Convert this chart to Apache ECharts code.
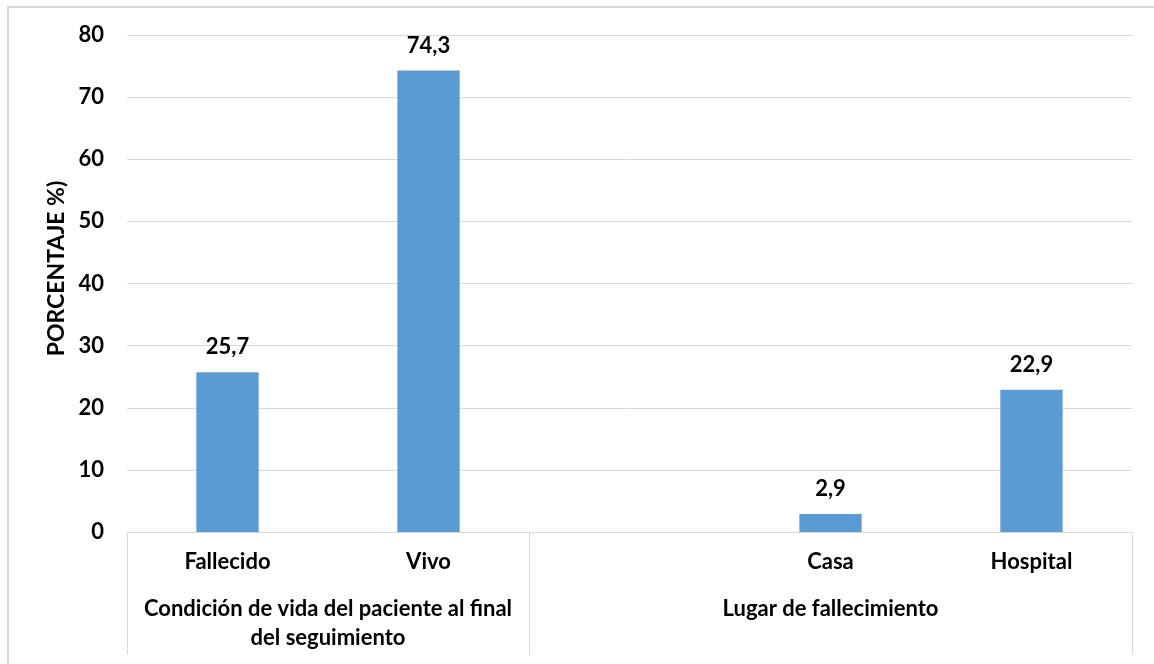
<!DOCTYPE html>
<html>
<head>
<meta charset="utf-8">
<script src="https://cdn.jsdelivr.net/npm/echarts@6/dist/echarts.min.js"></script>
<style>
html,body{margin:0;padding:0;background:#fff;}
#frame{position:absolute;left:7px;top:6px;width:1160px;height:670px;border:2px solid #d9d9d9;box-sizing:border-box;}
#chart{position:absolute;left:0;top:0;width:1154px;height:664px;}
</style>
</head>
<body>
<div id="frame"></div>
<div id="chart"></div>
<script>
const categories = ['Fallecido', 'Vivo', '', 'Casa', 'Hospital'];
const values = [25.7, 74.3, null, 2.9, 22.9];
const groupLabels = ['', '', 'Condición de vida del paciente al final\ndel seguimiento', '', '', '', '', 'Lugar de fallecimiento', '', '', ''];
const groupBoundaries = [0, 4, 10];
const yTicks = { min: 0, max: 80, interval: 10 };
const yName = 'PORCENTAJE %)';

const FONT = 'Lato';
const FS = 22;
const chart = echarts.init(document.getElementById('chart'));
chart.setOption({
  animation: false,
  grid: { left: 127, right: 22, top: 35, bottom: 132 },
  xAxis: [
    {
      type: 'category',
      data: categories,
      position: 'bottom',
      axisLine: { show: true, lineStyle: { color: '#d9d9d9', width: 1 } },
      axisTick: { show: false },
      axisLabel: { interval: 0, margin: 19, color: '#000', fontFamily: FONT, fontWeight: 'bold', fontSize: FS }
    },
    {
      type: 'category',
      data: groupLabels,
      position: 'bottom',
      boundaryGap: false,
      axisLine: { show: false },
      axisTick: {
        show: true,
        length: 123,
        interval: function (idx) { return groupBoundaries.indexOf(idx) >= 0; },
        lineStyle: { color: '#d9d9d9', width: 1 }
      },
      axisLabel: { interval: 0, margin: 62, color: '#000', fontFamily: FONT, fontWeight: 'bold', fontSize: FS, lineHeight: 29, align: 'center' }
    }
  ],
  yAxis: {
    type: 'value',
    min: yTicks.min, max: yTicks.max, interval: yTicks.interval,
    name: yName,
    nameLocation: 'middle',
    nameGap: 56,
    nameTextStyle: { color: '#000', fontFamily: FONT, fontWeight: 'bold', fontSize: 23, padding: [0, 0, 0, 30] },
    axisLine: { show: false },
    axisTick: { show: false },
    axisLabel: { margin: 23, color: '#000', fontFamily: FONT, fontWeight: 'bold', fontSize: FS },
    splitLine: { lineStyle: { color: '#d9d9d9', width: 1 } }
  },
  series: [{
    type: 'bar',
    data: values,
    barCategoryGap: '69%',
    itemStyle: { color: '#5b9bd5' },
    label: {
      show: true, position: 'top', distance: 14,
      color: '#000', fontFamily: FONT, fontWeight: 'bold', fontSize: FS,
      formatter: function (p) { return p.value == null ? '' : String(p.value).replace('.', ','); }
    }
  }]
});
</script>
</body>
</html>
